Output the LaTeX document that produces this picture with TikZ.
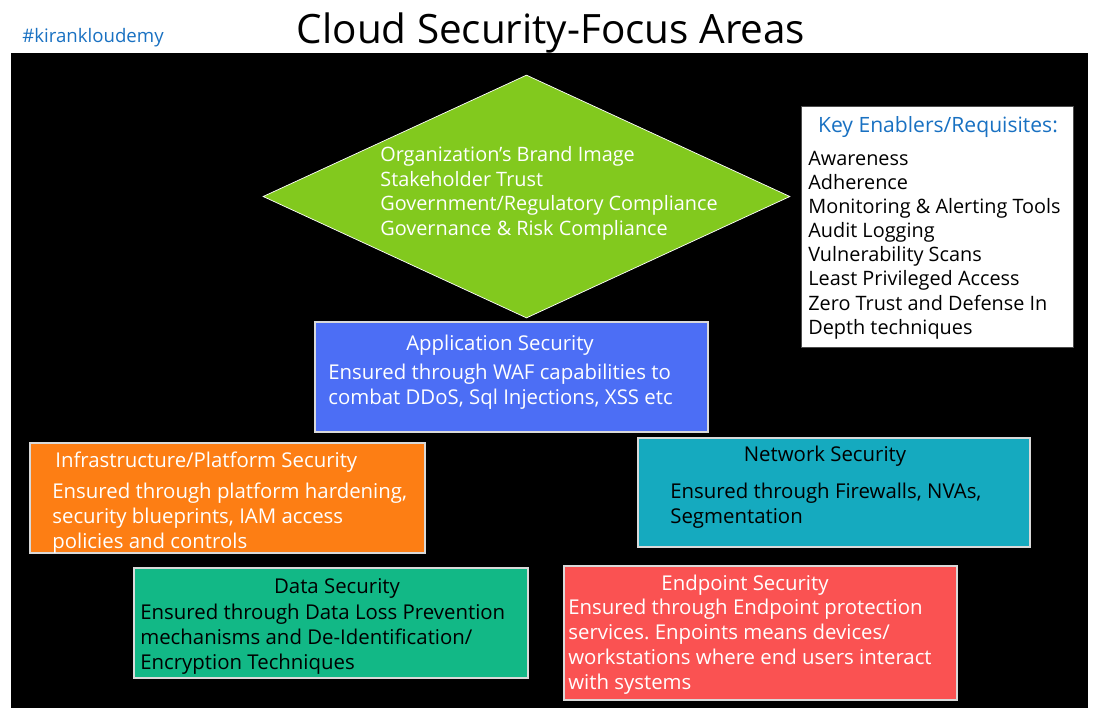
\documentclass[tikz,border=0pt]{standalone}
\usepackage{fontspec}
\setmainfont{Open Sans}
\usetikzlibrary{shapes.geometric}
\frenchspacing
\definecolor{KKBlue}{RGB}{25,113,194}
\definecolor{GoalGreen}{RGB}{130,201,30}
\definecolor{AppBlue}{RGB}{76,110,245}
\definecolor{InfraOrange}{RGB}{253,126,20}
\definecolor{NetCyan}{RGB}{21,170,191}
\definecolor{DataGreen}{RGB}{18,184,134}
\definecolor{EndRed}{RGB}{250,82,82}

\begin{document}
\begin{tikzpicture}[
    x=0.2mm,
    y=-0.2mm,
    font=\fontsize{11.6}{14.2}\selectfont,
    secbox/.style={
        draw=white!85!black,
        line width=0.8pt,
        minimum width=78.6mm,
        minimum height=22mm,
        inner sep=0pt
    },
    head/.style={
        inner sep=0pt
    },
    body/.style={
        anchor=north west,
        align=left,
        inner sep=0pt
    }
]

\useasboundingbox (0,0) rectangle (1098,719);
\fill[white] (0,0) rectangle (1098,719);

% header
\node[text=KKBlue, anchor=west, inner sep=0pt, font=\fontsize{10.6}{12}\selectfont] (tag) at (22,38) {\#kirankloudemy};
\node[font=\fontsize{23}{27}\selectfont, inner sep=0pt] (title) at (551,33) {Cloud Security-Focus Areas};

% board
\node[fill=black, minimum width=215.4mm, minimum height=131mm, inner sep=0pt] (board) at (549.5,380.5) {};

% goals
\node[diamond, draw=white, fill=GoalGreen, minimum width=105.4mm, minimum height=48.6mm, inner sep=0pt] (goals) at (526.5,196.5) {};
\node[body, text=white, font=\fontsize{11.3}{14}\selectfont] (goals-text) at (380,146) {Organization's Brand Image\\Stakeholder Trust\\Government/Regulatory Compliance\\Governance \& Risk Compliance};

% enablers
\node[draw=black!70, fill=white, minimum width=54.4mm, minimum height=48.2mm, inner sep=0pt] (enablers) at (937,226.5) {};
\node[head, text=KKBlue, font=\fontsize{12}{14}\selectfont] (enablers-head) at (938,127) {Key Enablers/Requisites:};
\node[body, font=\fontsize{11.3}{13.7}\selectfont] (enablers-text) at (808,151) {Awareness\\Adherence\\Monitoring \& Alerting Tools\\Audit Logging\\Vulnerability Scans\\Least Privileged Access\\Zero Trust and Defense In\\Depth techniques};

% application
\node[secbox, fill=AppBlue] (app) at (511.5,377) {};
\node[head, text=white] (app-head) at (500,345) {Application Security};
\node[body, text=white] (app-text) at (328,364) {Ensured through WAF capabilities to\\combat DDoS, Sql Injections, XSS etc};

% infrastructure
\node[secbox, fill=InfraOrange, minimum width=79mm] (infra) at (227.5,498) {};
\node[head, text=white, anchor=west] (infra-head) at (55,462) {Infrastructure/Platform Security};
\node[body, text=white] (infra-text) at (52,483) {Ensured through platform hardening,\\security blueprints, IAM access\\policies and controls};

% network
\node[secbox, fill=NetCyan, minimum width=78.4mm, minimum height=21.8mm] (net) at (834,492.5) {};
\node[head] (net-head) at (825,456) {Network Security};
\node[body] (net-text) at (670,483) {Ensured through Firewalls, NVAs,\\Segmentation};

% data
\node[secbox, fill=DataGreen, minimum width=78.8mm] (data) at (331,623) {};
\node[head] (data-head) at (337,588) {Data Security};
\node[body] (data-text) at (140,604) {Ensured through Data Loss Prevention\\mechanisms and De-Identification/\\Encryption Techniques};

% endpoint
\node[secbox, fill=EndRed, minimum height=26.8mm] (endpoint) at (760.5,633) {};
\node[head, text=white] (endpoint-head) at (745,585) {Endpoint Security};
\node[body, text=white] (endpoint-text) at (568,599) {Ensured through Endpoint protection\\services. Enpoints means devices/\\workstations where end users interact\\with systems};

\end{tikzpicture}
\end{document}
